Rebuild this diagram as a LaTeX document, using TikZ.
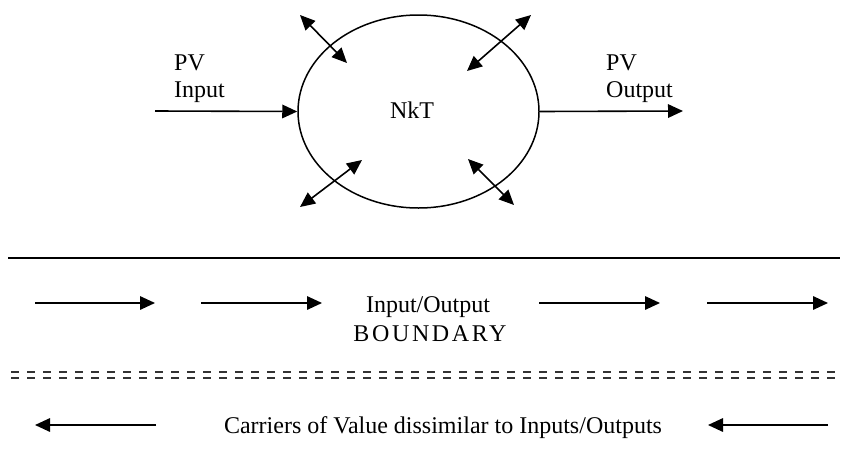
\documentclass[tikz,border=0pt]{standalone}
\usepackage{fontspec}
\setmainfont{Liberation Serif}
\usetikzlibrary{arrows.meta,shapes.geometric}
\tikzset{
  tip/.tip={Triangle[length=15pt,width=13.5pt]},
  flow/.style={line width=1.6pt,-tip},
  twoway/.style={line width=1.6pt,tip-tip},
  lbl/.style={font=\fontsize{24}{27}\selectfont,inner sep=0pt,anchor=base},
  dashrow/.style={line width=2.4pt,dash pattern=on 8pt off 8pt,draw=black!80}
}
\begin{document}
\begin{tikzpicture}[x=1pt,y=-1pt]
\useasboundingbox (0,0) rectangle (842,466);
% the NkT entity
\node[ellipse,draw,line width=1.5pt,minimum width=241pt,minimum height=193pt,inner sep=0pt] (nkt) at (418.5,111.5) {};
\node[lbl] (nktl) at (412,118) {NkT};
% PV flow through the entity
\coordinate (pvin) at (155,111);
\coordinate (pvout) at (683,111);
\draw[flow] (pvin) -- (nkt.west);
\draw[flow] (nkt.east) -- (pvout);
\node[lbl,anchor=base west] (inl1) at (174,70) {PV};
\node[lbl,anchor=base west] (inl2) at (174,97) {Input};
\node[lbl,anchor=base west] (outl1) at (606,70) {PV};
\node[lbl,anchor=base west] (outl2) at (606,97) {Output};
% two-way exchanges across the entity border
\coordinate (a1) at (300,15);  \coordinate (a2) at (347,63);
\coordinate (b1) at (531,15);  \coordinate (b2) at (467,71);
\coordinate (c1) at (362,160); \coordinate (c2) at (300,207);
\coordinate (d1) at (468,159); \coordinate (d2) at (514,205);
\draw[twoway] (a1) -- (a2);
\draw[twoway] (b1) -- (b2);
\draw[twoway] (c1) -- (c2);
\draw[twoway] (d1) -- (d2);
% boundary band
\coordinate (s1) at (8,258); \coordinate (s2) at (840,258);
\draw[line width=1.6pt] (s1) -- (s2);
\node[lbl] (iol) at (428,312) {Input/Output};
\coordinate (r1a) at (35,303);  \coordinate (r1b) at (155,303);
\coordinate (r2a) at (201,303); \coordinate (r2b) at (322,303);
\coordinate (r3a) at (539,303); \coordinate (r3b) at (660,303);
\coordinate (r4a) at (707,303); \coordinate (r4b) at (828,303);
\draw[flow] (r1a) -- (r1b);
\draw[flow] (r2a) -- (r2b);
\draw[flow] (r3a) -- (r3b);
\draw[flow] (r4a) -- (r4b);
\node[lbl] (bnd) at (430,341) {\addfontfeature{LetterSpace=11}BOUNDARY};
\coordinate (d1a) at (11,372); \coordinate (d1b) at (836,372);
\coordinate (d2a) at (11,378); \coordinate (d2b) at (836,378);
\draw[dashrow] (d1a) -- (d1b);
\draw[dashrow] (d2a) -- (d2b);
% carriers moving the other way
\node[lbl] (carl) at (443,433) {Carriers of Value dissimilar to Inputs/Outputs};
\coordinate (l1a) at (156,425); \coordinate (l1b) at (35,425);
\coordinate (l2a) at (828,425); \coordinate (l2b) at (708,425);
\draw[flow] (l1a) -- (l1b);
\draw[flow] (l2a) -- (l2b);
\end{tikzpicture}
\end{document}
